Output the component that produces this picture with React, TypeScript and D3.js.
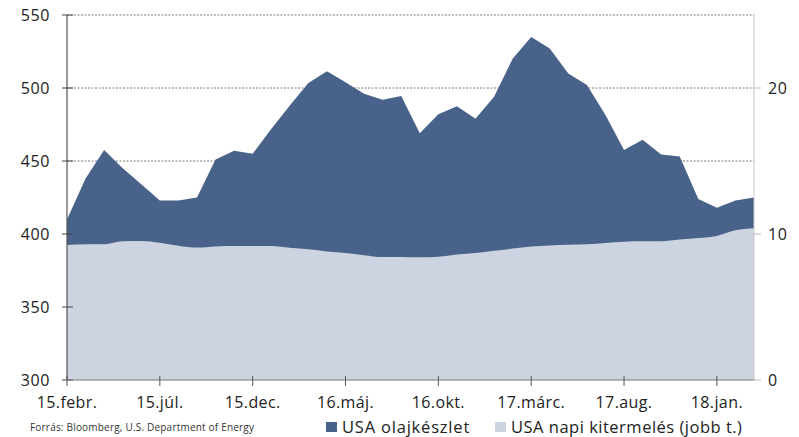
import React from "react";
import * as d3 from "d3";

const stockValues = [410, 438, 457.5, 445, 434, 423, 423, 425, 451, 457, 455, 472, 488, 503.5, 511.5, 504, 496, 492, 494.5, 469, 482, 487.5, 479, 494, 520, 535, 527, 510, 502, 481.5, 457.5, 464.5, 454.5, 453, 424, 418, 423, 425];
const productionValues = [9.25, 9.3, 9.3, 9.5, 9.52, 9.4, 9.2, 9.07, 9.15, 9.18, 9.18, 9.18, 9.05, 8.95, 8.8, 8.7, 8.55, 8.42, 8.43, 8.4, 8.45, 8.6, 8.7, 8.85, 9.0, 9.15, 9.22, 9.27, 9.3, 9.38, 9.47, 9.5, 9.5, 9.62, 9.72, 9.87, 10.25, 10.4];
const xTickIndex = [0, 5, 10, 15, 20, 25, 30, 35];
const xTickLabels = ["15.febr.", "15.júl.", "15.dec.", "16.máj.", "16.okt.", "17.márc.", "17.aug.", "18.jan."];
const leftTicks = [300, 350, 400, 450, 500, 550];
const gridTicks = [450, 500, 550];
const rightTicks = [0, 10, 20];
const legendLabels = ["USA olajkészlet", "USA napi kitermelés (jobb t.)"];
const sourceText = "Forrás: Bloomberg, U.S. Department of Energy";

const W = 799, H = 437;
const L = 67, R = 754, T = 15, B = 380;
const DARK = "#48628a";
const LIGHT = "#cbd4e0";
const FONT = "'Open Sans', sans-serif";

export default function App() {
  const x = d3.scaleLinear().domain([0, stockValues.length - 1]).range([L, R]);
  const yL = d3.scaleLinear().domain([300, 550]).range([B, T]);
  const yR = d3.scaleLinear().domain([0, 25]).range([B, T]);

  const darkArea = d3.area<number>()
    .x((_, i) => x(i))
    .y0(yL(300))
    .y1((d) => yL(d))
    .curve(d3.curveLinear)(stockValues) || "";
  const lightArea = d3.area<number>()
    .x((_, i) => x(i))
    .y0(yR(0))
    .y1((d) => yR(d))
    .curve(d3.curveMonotoneX)(productionValues) || "";

  return (
    <svg width={W} height={H} style={{ position: "absolute", left: 0, top: 0, background: "#fff" }} fontFamily={FONT}>
      {gridTicks.map((t) => (
        <line key={"g" + t} x1={L} x2={R} y1={yL(t)} y2={yL(t)} stroke="#555" strokeWidth={0.8} strokeDasharray="2,1.5" />
      ))}
      <path d={darkArea} fill={DARK} />
      <path d={lightArea} fill={LIGHT} />
      {/* right axis */}
      <line x1={R} x2={R} y1={T} y2={B} stroke="#c8c8c8" strokeWidth={1} />
      {rightTicks.map((t) => (
        <g key={"r" + t}>
          <line x1={R} x2={R + 7} y1={yR(t)} y2={yR(t)} stroke="#aaa" strokeWidth={0.8} />
          <text x={768} y={yR(t)} dy="0.35em" fontSize={16} letterSpacing={0.6} fill="#222">{t}</text>
        </g>
      ))}
      {/* left axis */}
      <line x1={L} x2={L} y1={T} y2={B} stroke="#555" strokeWidth={1.2} />
      {leftTicks.map((t) => (
        <g key={"l" + t}>
          <line x1={L - 5} x2={L + 6} y1={yL(t)} y2={yL(t)} stroke="#444" strokeWidth={1} />
          <text x={50} y={yL(t)} dy="0.35em" textAnchor="end" fontSize={16} letterSpacing={0.6} fill="#222">{t}</text>
        </g>
      ))}
      {/* bottom axis */}
      <line x1={L} x2={R} y1={B} y2={B} stroke="#777" strokeWidth={1.2} />
      {xTickIndex.map((idx, i) => (
        <g key={"x" + idx}>
          <line x1={x(idx)} x2={x(idx)} y1={B - 4} y2={B + 6} stroke="#555" strokeWidth={1} />
          <text x={x(idx)} y={408} textAnchor="middle" fontSize={16} letterSpacing={0.4} fill="#222">{xTickLabels[i]}</text>
        </g>
      ))}
      {/* source */}
      <text x={30} y={431} fontSize={10} letterSpacing={0.2} fill="#333">{sourceText}</text>
      {/* legend */}
      <rect x={326} y={422} width={11} height={10} fill={DARK} />
      <text x={342} y={433} fontSize={16.5} letterSpacing={0.8} fill="#222">{legendLabels[0]}</text>
      <rect x={495} y={422} width={11} height={10} fill={LIGHT} />
      <text x={511} y={433} fontSize={16.5} letterSpacing={0.5} fill="#222">{legendLabels[1]}</text>
    </svg>
  );
}
